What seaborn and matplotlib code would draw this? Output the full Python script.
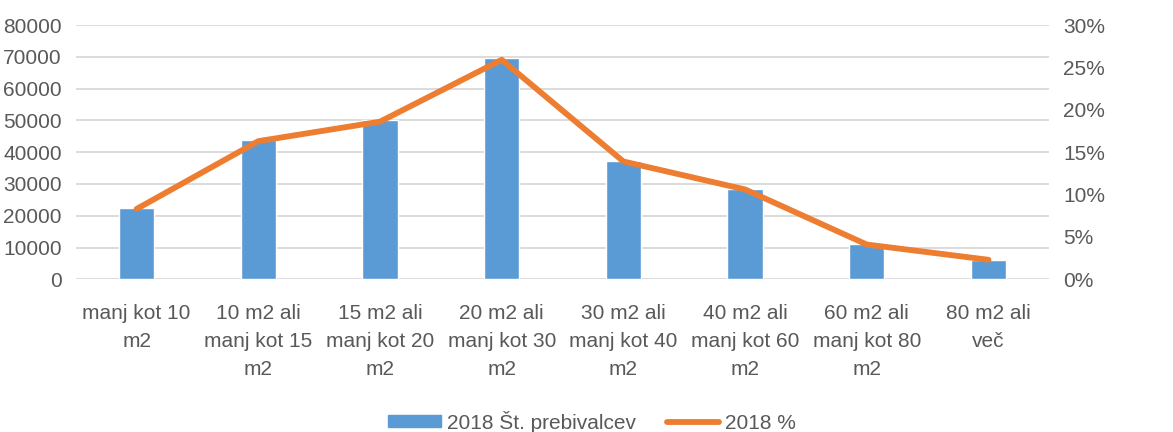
import pandas as pd
import seaborn as sns
import matplotlib.pyplot as plt
from matplotlib.patches import Patch
from matplotlib.lines import Line2D

categories = [
    "manj kot 10\nm2",
    "10 m2 ali\nmanj kot 15\nm2",
    "15 m2 ali\nmanj kot 20\nm2",
    "20 m2 ali\nmanj kot 30\nm2",
    "30 m2 ali\nmanj kot 40\nm2",
    "40 m2 ali\nmanj kot 60\nm2",
    "60 m2 ali\nmanj kot 80\nm2",
    "80 m2 ali\nveč",
]
residents = [22300, 43800, 50000, 69500, 37200, 28400, 11000, 6100]
percent = [8.3, 16.3, 18.6, 25.9, 13.9, 10.6, 4.1, 2.3]

bar_label = "2018 Št. prebivalcev"
line_label = "2018 %"

df = pd.DataFrame({"cat": categories, "n": residents, "pct": percent})

blue = "#5B9BD5"
orange = "#ED7D31"
grey = "#595959"
fs = 15

sns.set_style("white")
plt.rcParams["font.family"] = ["Liberation Sans", "DejaVu Sans"]

fig, ax = plt.subplots(figsize=(11.73, 4.32), dpi=100)
fig.subplots_adjust(left=0.0646, right=0.8946, top=0.942, bottom=0.3535)

sns.barplot(data=df, x="cat", y="n", ax=ax, color=blue, width=0.29,
            saturation=1, zorder=2)
ax.set_ylim(0, 80000)
ax.set_yticks(range(0, 80001, 10000))
ax.yaxis.grid(True, color="#D9D9D9", linewidth=1.3, zorder=0)
ax.set_axisbelow(True)

ax2 = ax.twinx()
sns.pointplot(data=df, x="cat", y="pct", ax=ax2, color=orange, markers="",
              linewidth=4.2, errorbar=None)
ax2.set_ylim(0, 30)
ax2.set_yticks(range(0, 31, 5))
ax2.set_yticklabels([f"{v}%" for v in range(0, 31, 5)])
ax.set_xlim(-0.5, len(categories) - 0.5)
ax.set_xticks(range(len(categories)))
ax.set_xticklabels(categories, linespacing=1.6)

for a in (ax, ax2):
    for s in a.spines.values():
        s.set_visible(False)
    a.set_xlabel("")
    a.set_ylabel("")
    a.tick_params(length=0, colors=grey, labelsize=fs)
ax.tick_params(axis="y", pad=10)
ax2.tick_params(axis="y", pad=10)
ax.tick_params(axis="x", pad=18)

handles = [Patch(color=blue), Line2D([0], [0], color=orange, lw=4.2)]
leg = fig.legend(handles, [bar_label, line_label], loc="lower center", ncol=2,
                 frameon=False, fontsize=fs, bbox_to_anchor=(0.505, -0.045),
                 handlelength=2.5, handleheight=0.5, columnspacing=1.5,
                 handletextpad=0.3)
for t in leg.get_texts():
    t.set_color(grey)

fig.savefig("out.png", dpi=100)
